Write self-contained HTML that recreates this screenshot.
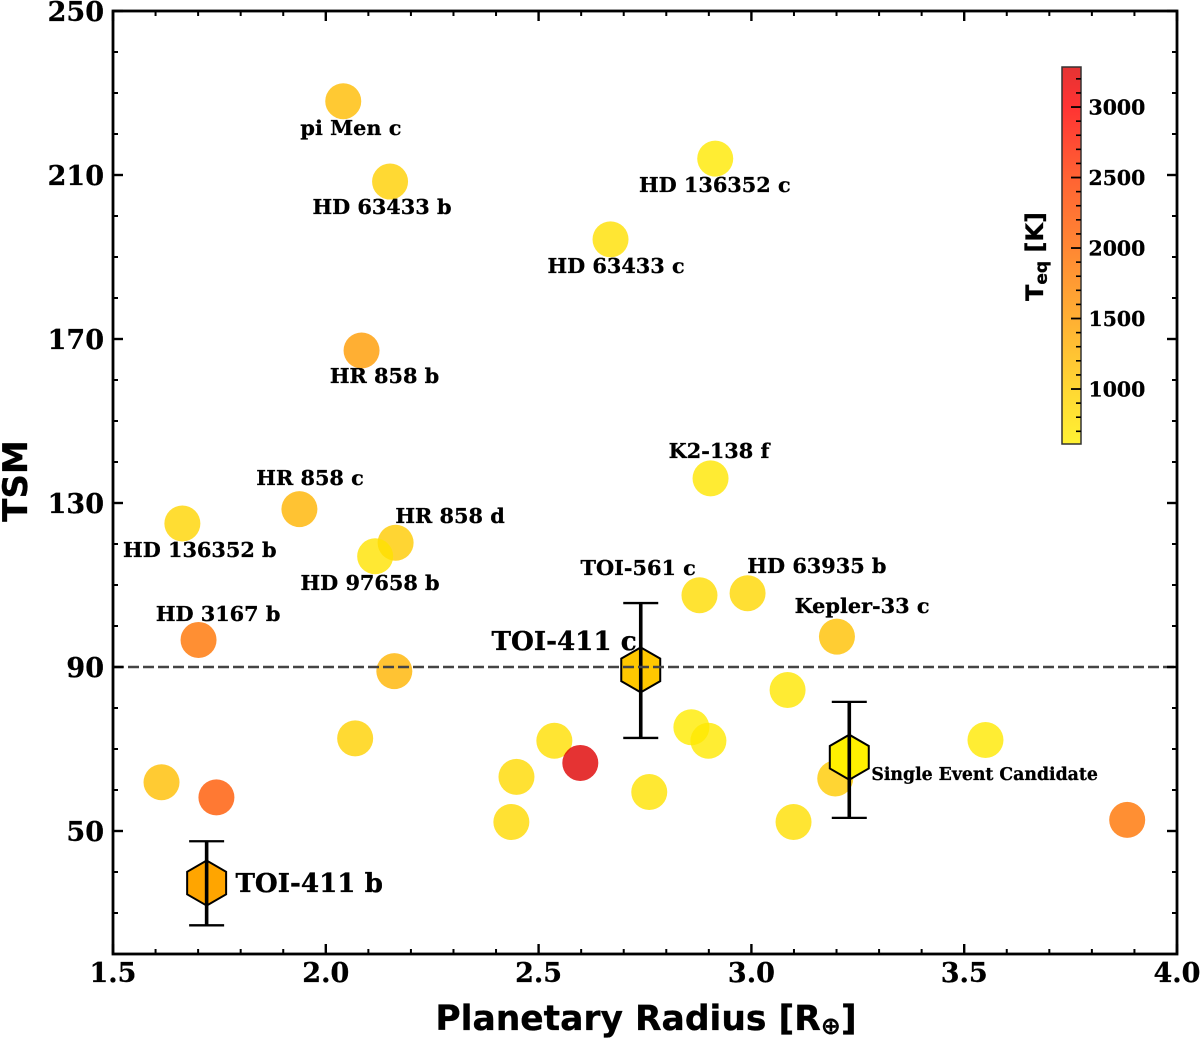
<!DOCTYPE html>
<html>
<head>
<meta charset="utf-8">
<title>TSM vs Planetary Radius</title>
<style>
html,body{margin:0;padding:0;background:#fff;width:1200px;height:1038px;overflow:hidden}
svg{display:block;filter:blur(0.35px)}
text{fill:#000;stroke:#000;stroke-width:0.3px}
.tick{font-family:"DejaVu Serif","Liberation Serif",serif;font-weight:700;font-size:27px}
.ann{font-family:"DejaVu Serif","Liberation Serif",serif;font-weight:700;font-size:20.8px}
.axis{font-family:"DejaVu Sans","Liberation Sans",sans-serif;font-weight:700}
</style>
</head>
<body>
<svg id="chart" xmlns="http://www.w3.org/2000/svg" width="1200" height="1038" viewBox="0 0 1200 1038"></svg>
<script>
// ---- data ----
const planetNames = ["pi Men c","HD 63433 b","HD 136352 c","HD 63433 c","HR 858 b","K2-138 f","HR 858 c","HD 136352 b","HR 858 d","HD 97658 b","HD 3167 b","TOI-561 c","HD 63935 b","Kepler-33 c","unlabeled-a","unlabeled-b","unlabeled-c","unlabeled-d","unlabeled-e","unlabeled-f","unlabeled-g","unlabeled-h","unlabeled-i","unlabeled-j","unlabeled-k","unlabeled-l","unlabeled-m","unlabeled-n","unlabeled-o","unlabeled-p"];
const planetRadius = [2.041,2.151,2.915,2.669,2.084,2.904,1.938,1.663,2.164,2.116,1.701,2.878,2.991,3.201,2.161,3.085,2.859,2.899,3.55,2.069,2.537,2.598,2.448,1.614,1.743,2.76,3.197,2.436,3.099,3.883];
const planetTsm = [228,208.4,214,194.3,167.2,136,128.5,125,120.3,117,96.6,107.5,108,97.4,89,84.4,75.3,72,72.2,72.6,72,66.6,63.2,61.9,58.2,59.5,62.8,52.2,52.2,52.7];
const planetTeq = [1170,960,680,780,1500,700,1250,900,1020,750,1900,820,880,1130,1250,700,650,680,680,950,800,3280,850,1150,2200,750,1020,850,800,1900];

const labelText = ["pi Men c","HD 63433 b","HD 136352 c","HD 63433 c","HR 858 b","K2-138 f","HR 858 c","HD 136352 b","HR 858 d","HD 97658 b","HD 3167 b","TOI-561 c","HD 63935 b","Kepler-33 c"];
const labelRadius = [2.059,2.132,2.914,2.682,2.138,2.924,1.963,1.704,2.292,2.104,1.747,2.734,3.154,3.260];
const labelTsm = [219.8,200.45,205.85,186.05,159.25,140.95,134.35,116.85,125.15,108.75,101.25,112.45,112.95,103.15];

const targetNames = ["TOI-411 b","TOI-411 c","Single Event Candidate"];
const targetRadius = [1.72,2.74,3.23];
const targetTsm = [37.3,89.3,68];
const targetTsmLow = [27,72.7,53.2];
const targetTsmHigh = [47.5,105.6,81.5];
const targetFill = ["#ffa500","#ffc800","#fff000"];
const targetLabelRadius = [1.961,2.560,3.548];
const targetLabelTsm = [35.1,94.1,62.4];
const targetLabelSize = [26.2,26.2,17.3];

const xTickValues = [1.5,2.0,2.5,3.0,3.5,4.0];
const yTickValues = [50,90,130,170,210,250];
const colorbarTickValues = [1000,1500,2000,2500,3000];
const thresholdTsm = 90;

// ---- scales ----
const plotLeft = 113, plotRight = 1177, plotTop = 11, plotBottom = 954;
const xMin = 1.5, xMax = 4.0, yMin = 20, yMax = 250;
const cbLeft = 1062, cbRight = 1081, cbTop = 67, cbBottom = 444, tMin = 610, tMax = 3284;
const xScale = v => plotLeft + (v - xMin) / (xMax - xMin) * (plotRight - plotLeft);
const yScale = v => plotBottom - (v - yMin) / (yMax - yMin) * (plotBottom - plotTop);
const tScale = v => cbBottom - (v - tMin) / (tMax - tMin) * (cbBottom - cbTop);

const colorStopT = [610,1000,1500,2000,2500,3000,3284];
const colorStopG = [238,205,155,105,60,0,0];
const colorStopR = [255,255,255,255,255,255,222];
function teqColor(t){
  let i = 0;
  while (i < colorStopT.length - 2 && t > colorStopT[i + 1]) i++;
  const f = Math.max(0, Math.min(1, (t - colorStopT[i]) / (colorStopT[i + 1] - colorStopT[i])));
  const r = colorStopR[i] + f * (colorStopR[i + 1] - colorStopR[i]);
  const g = colorStopG[i] + f * (colorStopG[i + 1] - colorStopG[i]);
  return "rgb(" + Math.round(r) + "," + Math.round(g) + ",0)";
}

const svg = document.getElementById("chart");
const NS = "http://www.w3.org/2000/svg";
function mk(tag, attrs, parent){
  const el = document.createElementNS(NS, tag);
  for (const k in attrs) el.setAttribute(k, attrs[k]);
  (parent || svg).appendChild(el);
  return el;
}
function line(x1, y1, x2, y2, w, color, parent){
  return mk("line", {x1: x1, y1: y1, x2: x2, y2: y2, stroke: color || "#000", "stroke-width": w}, parent);
}

// ---- circles ----
const pointsGroup = mk("g", {});


planetRadius.forEach((r, i) => {
  const c = mk("circle", {cx: xScale(r), cy: yScale(planetTsm[i]), r: 18, fill: teqColor(planetTeq[i]), "fill-opacity": 0.8}, pointsGroup);
  
  
});

// ---- labels ----
labelText.forEach((t, i) => {
  const el = mk("text", {x: xScale(labelRadius[i]), y: yScale(labelTsm[i]), "text-anchor": "middle", class: "ann"});
  el.textContent = t;
  
  
});

// ---- highlighted targets ----
targetRadius.forEach((r, i) => {
  const g = mk("g", {});
  
  
  const cx = xScale(r), cy = yScale(targetTsm[i]);
  const pts = [];
  for (let k = 0; k < 6; k++) {
    const a = Math.PI / 2 + k * Math.PI / 3;
    pts.push((cx + 22.5 * Math.cos(a)).toFixed(2) + "," + (cy + 22.5 * Math.sin(a)).toFixed(2));
  }
  const hex = mk("polygon", {points: pts.join(" "), fill: targetFill[i], stroke: "#000", "stroke-width": 2}, g);
  
  
  const yHi = yScale(targetTsmHigh[i]), yLo = yScale(targetTsmLow[i]);
  const bar = line(cx, yHi, cx, yLo, 3.6, "#000", g);
  
  
  const capTop = line(cx - 17.5, yHi, cx + 17.5, yHi, 2.3, "#000", g);
  
  
  const capBot = line(cx - 17.5, yLo, cx + 17.5, yLo, 2.3, "#000", g);
  
  
  const lab = mk("text", {x: xScale(targetLabelRadius[i]), y: yScale(targetLabelTsm[i]), "text-anchor": "middle", class: "ann", style: "font-size:" + targetLabelSize[i] + "px"});
  lab.textContent = targetNames[i];
  
  
});

// ---- threshold ----
const thresholdLine = line(plotLeft, yScale(thresholdTsm), plotRight, yScale(thresholdTsm), 2.6, "#444");
thresholdLine.setAttribute("stroke-dasharray", "11 4");



// ---- ticks ----
const ticksGroup = mk("g", {});


for (let v = 16; v <= 39; v++) {
  if (v % 5 === 0) continue;
  const x = xScale(v / 10);
  line(x, plotBottom, x, plotBottom - 5, 2, "#000", ticksGroup);
  line(x, plotTop, x, plotTop + 5, 2, "#000", ticksGroup);
}
for (let v = 30; v <= 240; v += 10) {
  if ((v - 10) % 40 === 0) continue;
  const y = yScale(v);
  line(plotLeft, y, plotLeft + 5, y, 2, "#000", ticksGroup);
  line(plotRight, y, plotRight - 5, y, 2, "#000", ticksGroup);
}
xTickValues.forEach(v => {
  const x = xScale(v);
  line(x, plotBottom, x, plotBottom - 10, 2.4, "#000", ticksGroup);
  line(x, plotTop, x, plotTop + 10, 2.4, "#000", ticksGroup);
  const t = mk("text", {x: x, y: 982, "text-anchor": "middle", class: "tick"});
  t.textContent = v.toFixed(1);
  
  
});
yTickValues.forEach(v => {
  const y = yScale(v);
  line(plotLeft, y, plotLeft + 10, y, 2.4, "#000", ticksGroup);
  line(plotRight, y, plotRight - 10, y, 2.4, "#000", ticksGroup);
  const t = mk("text", {x: 104, y: y + 10, "text-anchor": "end", class: "tick"});
  t.textContent = String(v);
  
  
});

// ---- frame ----
const frame = mk("rect", {x: plotLeft, y: plotTop, width: plotRight - plotLeft, height: plotBottom - plotTop, fill: "none", stroke: "#000", "stroke-width": 2.8});



// ---- axis titles ----
const xTitle = mk("text", {x: 646, y: 1030, "text-anchor": "middle", class: "axis", style: "font-size:34.5px"});


xTitle.appendChild(document.createTextNode("Planetary Radius [R"));
const xSub = mk("tspan", {"font-size": "24", dy: "4"}, xTitle);
xSub.textContent = "⊕";
const xEnd = mk("tspan", {dy: "-4"}, xTitle);
xEnd.textContent = "]";

const yTitle = mk("text", {transform: "translate(27,481) rotate(-90)", "text-anchor": "middle", class: "axis", style: "font-size:34px"});
yTitle.textContent = "TSM";



// ---- colorbar ----
const defs = mk("defs", {});
const grad = mk("linearGradient", {id: "cbGrad", x1: 0, y1: 1, x2: 0, y2: 0}, defs);
colorStopT.forEach(t => {
  mk("stop", {offset: (t - tMin) / (tMax - tMin), "stop-color": teqColor(t)}, grad);
});
const cbGroup = mk("g", {});


const cbRect = mk("rect", {x: cbLeft, y: cbTop, width: cbRight - cbLeft, height: cbBottom - cbTop, fill: "url(#cbGrad)", "fill-opacity": 0.8}, cbGroup);


const cbFrame = mk("rect", {x: cbLeft, y: cbTop, width: cbRight - cbLeft, height: cbBottom - cbTop, fill: "none", stroke: "#333", "stroke-width": 1.5}, cbGroup);


for (let v = 700; v <= 3200; v += 100) {
  if (v % 500 === 0) continue;
  line(cbRight, tScale(v), cbRight - 5, tScale(v), 1.6, "#000", cbGroup);
}
colorbarTickValues.forEach(v => {
  const y = tScale(v);
  line(cbRight, y, cbRight - 10, y, 1.8, "#000", cbGroup);
  const t = mk("text", {x: 1088.5, y: y + 7.5, class: "tick", style: "font-size:20.4px"}, cbGroup);
  t.textContent = String(v);
  
  
});
const cbTitle = mk("text", {transform: "translate(1043,256.5) rotate(-90)", "text-anchor": "middle", class: "axis", style: "font-size:24px"});


cbTitle.appendChild(document.createTextNode("T"));
const cbSub = mk("tspan", {"font-size": "17", dy: "4"}, cbTitle);
cbSub.textContent = "eq";
const cbEnd = mk("tspan", {dy: "-4"}, cbTitle);
cbEnd.textContent = " [K]";
</script>
</body>
</html>
